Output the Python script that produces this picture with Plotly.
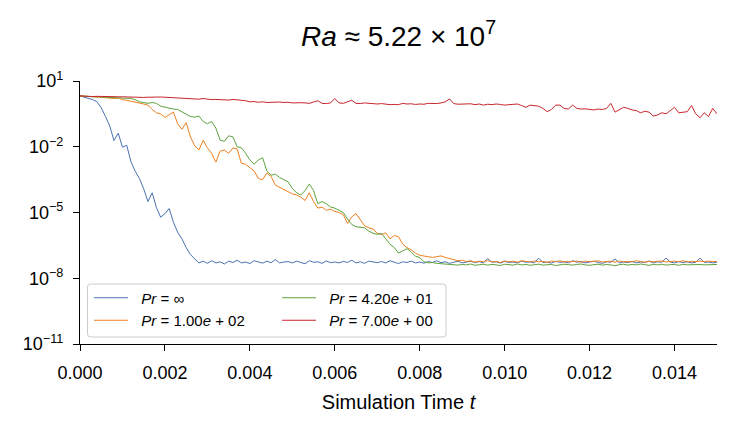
import numpy as np
import plotly.graph_objects as go

# Sample times (step 1e-4)
time = np.round(np.arange(151) * 1e-4, 6)

# log10 of the plotted quantity
log_pr_inf = [
    0.32, 0.26, 0.2, 0.15, 0.05, -0.22, -0.62, -1.05, -1.72, -1.38,
    -2.02, -1.93, -2.68, -3.12, -3.45, -3.92, -4.5, -4.1, -4.78, -5.22,
    -5.05, -4.82, -5.45, -5.9, -6.2, -6.6, -6.92, -7.12, -7.3, -7.22,
    -7.32, -7.2, -7.3, -7.25, -7.35, -7.22, -7.28, -7.18, -7.3, -7.26,
    -7.33, -7.2, -7.27, -7.31, -7.22, -7.29, -7.15, -7.3, -7.26, -7.24,
    -7.3, -7.22, -7.28, -7.34, -7.2, -7.27, -7.25, -7.32, -7.21, -7.29,
    -7.26, -7.3, -7.23, -7.28, -7.18, -7.3, -7.25, -7.32, -7.22, -7.27,
    -7.29, -7.24, -7.3, -7.2, -7.27, -7.33, -7.25, -7.28, -7.22, -7.3,
    -7.26, -7.31, -7.24, -7.28, -7.2, -7.29, -7.25, -7.32, -7.27, -7.23,
    -7.3, -7.26, -7.22, -7.29, -7.24, -7.3, -7.1, -7.27, -7.25, -7.31,
    -7.23, -7.28, -7.26, -7.3, -7.22, -7.27, -7.25, -7.3, -7.08, -7.28,
    -7.26, -7.31, -7.22, -7.28, -7.25, -7.3, -7.2, -7.27, -7.24, -7.3,
    -7.26, -7.22, -7.28, -7.32, -7.25, -7.27, -7.12, -7.3, -7.26, -7.28,
    -7.23, -7.3, -7.26, -7.28, -7.22, -7.3, -7.25, -7.27, -7.08, -7.26,
    -7.3, -7.24, -7.28, -7.25, -7.3, -7.27, -7.08, -7.28, -7.26, -7.3,
    -7.27,
]

log_pr_100 = [
    0.32, 0.3, 0.29, 0.28, 0.27, 0.26, 0.24, 0.25, 0.2, 0.22,
    0.15, 0.12, 0.08, 0.05, 0.02, -0.05, -0.1, -0.3, -0.45, -0.5,
    -0.66, -0.55, -0.42, -0.95, -1.2, -0.9, -1.55, -1.95, -2.15, -1.7,
    -2.05, -2.3, -2.7, -2.2, -2.15, -2.3, -2.05, -2.1, -2.75, -2.8,
    -2.95, -3.1, -3.45, -3.5, -3.2, -3.35, -3.75, -3.85, -3.95, -4.05,
    -4.15, -4.2, -4.3, -4.45, -4.1, -4.5, -4.8, -4.75, -4.9, -4.85,
    -4.95, -5.0, -5.1, -5.5, -5.2, -5.05, -5.3, -5.6, -5.7, -5.75,
    -5.95, -6.0, -5.93, -6.2, -6.05, -6.1, -6.45, -6.6, -6.7, -6.85,
    -6.95, -6.97, -7.02, -7.05, -7.0, -6.98, -7.05, -7.1, -7.15, -7.2,
    -7.18,
    -7.24, -7.2, -7.27, -7.22, -7.25, -7.19, -7.26, -7.23, -7.28, -7.21,
    -7.25, -7.22, -7.27, -7.2, -7.24, -7.26, -7.21, -7.25, -7.23, -7.28,
    -7.22, -7.25, -7.2, -7.26, -7.23, -7.24, -7.21, -7.27, -7.22, -7.25,
    -7.23, -7.2, -7.26, -7.24, -7.22, -7.27, -7.21, -7.25, -7.23, -7.26,
    -7.2, -7.24, -7.27, -7.22, -7.25, -7.23, -7.21, -7.26, -7.24, -7.22,
    -7.25, -7.2, -7.26, -7.23, -7.24, -7.21, -7.25, -7.22, -7.24, -7.23,
]

log_pr_42 = [
    0.32, 0.3, 0.29, 0.28, 0.28, 0.27, 0.26, 0.27, 0.25, 0.24,
    0.22, 0.23, 0.2, 0.15, 0.05, 0.02, -0.02, 0.02, -0.02, -0.15,
    -0.2, -0.22, -0.28, -0.3, -0.4, -0.5, -0.62, -0.65, -0.6, -0.85,
    -0.95, -0.85, -1.15, -1.7, -1.75, -1.5, -1.55, -2.0, -2.05, -2.3,
    -2.6, -2.8, -2.6, -2.5, -3.1, -3.3, -3.25, -3.4, -3.5, -3.6,
    -3.9, -4.1, -4.2, -4.0, -3.7, -4.0, -4.6, -4.5, -4.6, -4.75,
    -4.8, -4.9, -5.0, -5.3, -5.55, -5.65, -5.68, -5.7, -5.85, -5.95,
    -6.0, -5.95, -6.2, -6.45, -6.6, -6.85, -6.75, -6.65, -6.8, -7.0,
    -7.05, -7.25, -7.3, -7.28, -7.32, -7.33, -7.35, -7.37,
    -7.36, -7.4, -7.37, -7.39, -7.35, -7.41, -7.38, -7.36, -7.4, -7.37,
    -7.39, -7.42, -7.36, -7.38, -7.4, -7.35, -7.39, -7.37, -7.41, -7.38,
    -7.36, -7.4, -7.38, -7.37, -7.42, -7.39, -7.36, -7.38, -7.4, -7.37,
    -7.35, -7.39, -7.41, -7.38, -7.36, -7.4, -7.37, -7.39, -7.43, -7.38,
    -7.36, -7.4, -7.37, -7.39, -7.35, -7.38, -7.41, -7.37, -7.39, -7.36,
    -7.4, -7.38, -7.37, -7.41, -7.36, -7.39, -7.38, -7.4, -7.37, -7.39,
    -7.38, -7.4, -7.37,
]

log_pr_7 = [
    0.32, 0.3, 0.3, 0.29, 0.3, 0.29, 0.28, 0.28, 0.29, 0.28,
    0.28, 0.27, 0.27, 0.26, 0.26, 0.25, 0.26, 0.27, 0.26, 0.27,
    0.26, 0.25, 0.24, 0.22, 0.2, 0.19, 0.18, 0.18, 0.17, 0.2,
    0.17, 0.15, 0.16, 0.14, 0.12, 0.13, 0.16, 0.15, 0.12, 0.1,
    0.05, 0.06, 0.03, 0.05, 0.02, 0.03, 0.06, 0.04, 0.02, 0.03,
    0.0, 0.02, 0.01, 0.0, -0.02, 0.04, 0.1, -0.02, -0.03, 0.0,
    0.2, 0.0, -0.02, 0.05, 0.12, -0.02, -0.03, 0.0, -0.02, -0.04,
    -0.05, -0.03, -0.06, -0.08, -0.07, -0.08, -0.02, -0.05, -0.04, -0.07,
    -0.05, -0.06, -0.02, -0.04, -0.03, 0.0, 0.05, 0.18, -0.03, -0.06,
    -0.05, -0.07, -0.04, -0.08, -0.05, -0.1, -0.06, -0.08, -0.05, -0.07,
    -0.1, -0.08, -0.06, -0.05, -0.12, -0.2, -0.1, -0.12, -0.15, -0.25,
    -0.4, -0.3, -0.1, -0.1, -0.25, -0.28, -0.1, -0.25, -0.28, -0.27,
    -0.3, -0.32, -0.28, -0.3, -0.25, -0.02, -0.42, -0.3, -0.2, -0.25,
    -0.32, -0.35, -0.45, -0.38, -0.42, -0.6, -0.55, -0.45, -0.5, -0.35,
    -0.2, -0.45, -0.42, -0.4, -0.12, -0.5, -0.68, -0.45, -0.62, -0.25,
    -0.5,
]

series_names = [
    "\u00a0\u00a0<i>Pr</i> = \u221e",
    "\u00a0\u00a0<i>Pr</i> = 1.00<i>e</i> + 02",
    "\u00a0\u00a0<i>Pr</i> = 4.20<i>e</i> + 01",
    "\u00a0\u00a0<i>Pr</i> = 7.00<i>e</i> + 00",
]
series_logs = [log_pr_inf, log_pr_100, log_pr_42, log_pr_7]
series_colors = ["#4c72b0", "#ef7f1e", "#5fa23c", "#c8262d"]
series_legend = ["legend", "legend", "legend2", "legend2"]

y_tickvals = [1e1, 1e-2, 1e-5, 1e-8, 1e-11]
y_ticktext = ["10<sup>1</sup>", "10<sup>\u22122</sup>", "10<sup>\u22125</sup>",
              "10<sup>\u22128</sup>", "10<sup>\u221211</sup>"]

FONT = "Liberation Sans, Arial, sans-serif"

fig = go.Figure()
for i, (name, logs, col, leg) in enumerate(zip(series_names, series_logs, series_colors, series_legend)):
    fig.add_trace(go.Scatter(
        x=time, y=np.power(10.0, np.array(logs)), mode="lines",
        name=name, line=dict(color=col, width=1),
        legend=leg,
    ))

W, H = 738, 429
ml, mr, mt, mb = 80, 21, 81, 85
pw, ph = W - ml - mr, H - mt - mb

def px_x(p):
    return (p - ml) / pw

def px_y(p):
    return (H - mb - p) / ph

# legend frame
fx0, fx1, fy0, fy1 = px_x(87.5), px_x(446), px_y(337), px_y(284)
rx, ry = 3 / pw, 3 / ph
frame_path = (
    f"M{fx0+rx},{fy1} L{fx1-rx},{fy1} Q{fx1},{fy1} {fx1},{fy1-ry} "
    f"L{fx1},{fy0+ry} Q{fx1},{fy0} {fx1-rx},{fy0} "
    f"L{fx0+rx},{fy0} Q{fx0},{fy0} {fx0},{fy0+ry} "
    f"L{fx0},{fy1-ry} Q{fx0},{fy1} {fx0+rx},{fy1} Z"
)

legend_common = dict(
    bgcolor="rgba(0,0,0,0)", borderwidth=0,
    font=dict(family=FONT, size=15, color="#000000"),
    xanchor="left", yanchor="top", orientation="v",
    itemwidth=34, tracegroupgap=0,
)

fig.update_layout(
    width=W, height=H,
    margin=dict(l=ml, r=mr, t=mt, b=mb),
    paper_bgcolor="white", plot_bgcolor="white",
    font=dict(family=FONT, color="#000000"),
    title=dict(
        text="<i>Ra</i> \u2248 5.22 \u00d7 10<sup>7</sup>",
        x=(398.5) / W, xanchor="center",
        y=1 - 36 / H, yanchor="middle",
        font=dict(family=FONT, size=28, color="#000000"),
    ),
    xaxis=dict(
        range=[0, 0.015], showgrid=False, zeroline=False,
        showline=True, linecolor="#000000", linewidth=1.2, mirror=False,
        ticks="outside", ticklen=6, tickwidth=1.2, tickcolor="#000000",
        tick0=0, dtick=0.002, tickformat=".3f",
        tickfont=dict(family=FONT, size=18, color="#000000"),
        ticklabelstandoff=6,
        title=dict(text="Simulation Time <i>t</i>", standoff=13,
                   font=dict(family=FONT, size=20, color="#000000")),
    ),
    yaxis=dict(
        type="log", range=[-11, 1], showgrid=False, zeroline=False,
        showline=True, linecolor="#000000", linewidth=1.2, mirror=False,
        ticks="outside", ticklen=6, tickwidth=1.2, tickcolor="#000000",
        tickmode="array", tickvals=y_tickvals, ticktext=y_ticktext,
        tickfont=dict(family=FONT, size=18, color="#000000"),
        ticklabelstandoff=6,
    ),
    legend=dict(x=px_x(89), y=px_y(281.5), **legend_common),
    legend2=dict(x=px_x(277), y=px_y(281.5), **legend_common),
    shapes=[dict(
        type="path", xref="paper", yref="paper", path=frame_path,
        line=dict(color="#cccccc", width=1), fillcolor="rgba(255,255,255,0.8)",
        layer="above",
    )],
    showlegend=True,
)

fig.write_html("out.html")
